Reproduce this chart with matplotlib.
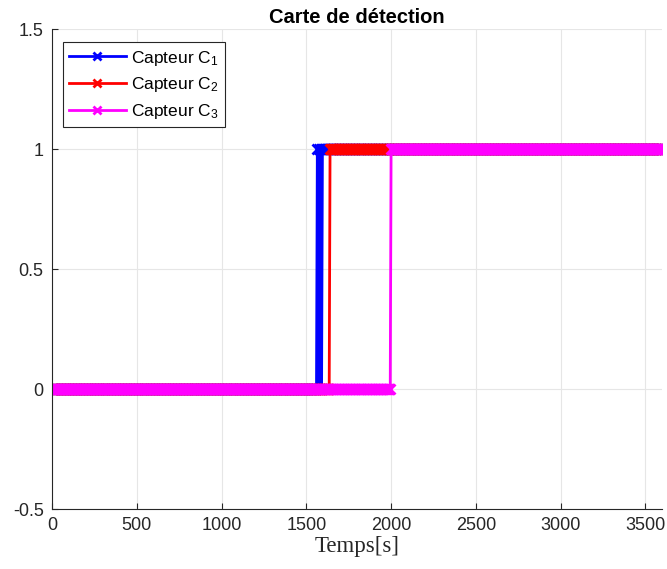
import numpy as np
from matplotlib import pyplot as plt

plt.rcParams['font.family'] = ['Liberation Sans', 'DejaVu Sans']
plt.rcParams['mathtext.fontset'] = 'custom'
plt.rcParams['mathtext.rm'] = 'Liberation Sans'
plt.rcParams['mathtext.it'] = 'Liberation Sans'

# temps d'echantillonnage (s)
temps = np.arange(0, 3601, 5)

# instants de commutation de chaque capteur (le capteur 1 oscille un peu)
commut_c1 = [1565, 1570, 1575, 1580, 1585, 1590, 1595]
commut_c2 = [1640]
commut_c3 = [2000]

noms = ["Capteur C$_1$", "Capteur C$_2$", "Capteur C$_3$"]
couleurs = ["#0000ff", "#ff0000", "#ff00ff"]


def etat(t, commutations):
    # chaque commutation inverse l'etat 0/1
    return np.array([sum(1 for c in commutations if ti >= c) % 2 for ti in t])


series = [etat(temps, commut_c1), etat(temps, commut_c2), etat(temps, commut_c3)]

fig = plt.figure(figsize=(6.67, 5.69), dpi=100)
ax = fig.add_axes([0.078, 0.1054, 0.915, 0.8436])

for val, nom, coul in zip(series, noms, couleurs):
    ax.plot(temps, val, color=coul, lw=2, marker="x", ms=6.5, mew=2, label=nom)

ax.set_xlim(0, 3600)
ax.set_ylim(-0.5, 1.5)
ax.set_xticks(range(0, 3501, 500))
ax.set_yticks([-0.5, 0, 0.5, 1, 1.5])
ax.set_yticklabels(["-0.5", "0", "0.5", "1", "1.5"])
ax.grid(True, color="#e6e6e6", lw=0.8)
ax.set_axisbelow(True)
for s in ["top", "right"]:
    ax.spines[s].set_visible(False)
for s in ["left", "bottom"]:
    ax.spines[s].set_color("#262626")
    ax.spines[s].set_linewidth(0.8)
ax.tick_params(direction="in", length=4, colors="#262626", labelsize=13, pad=6)

ax.set_title("Carte de détection", fontsize=14.5, fontweight="bold", pad=4)
ax.set_xlabel("Temps[s]", family="Liberation Serif", fontsize=16.5, color="#262626", labelpad=1)

leg = ax.legend(loc="upper left", bbox_to_anchor=(0.003, 0.99), fontsize=12.5,
                fancybox=False, edgecolor="#262626", framealpha=1,
                handlelength=3.3, borderpad=0.35, labelspacing=0.45, handletextpad=0.3,
                markerscale=0.9)
leg.get_frame().set_linewidth(0.8)

plt.savefig("out.png", dpi=100)
plt.close()
